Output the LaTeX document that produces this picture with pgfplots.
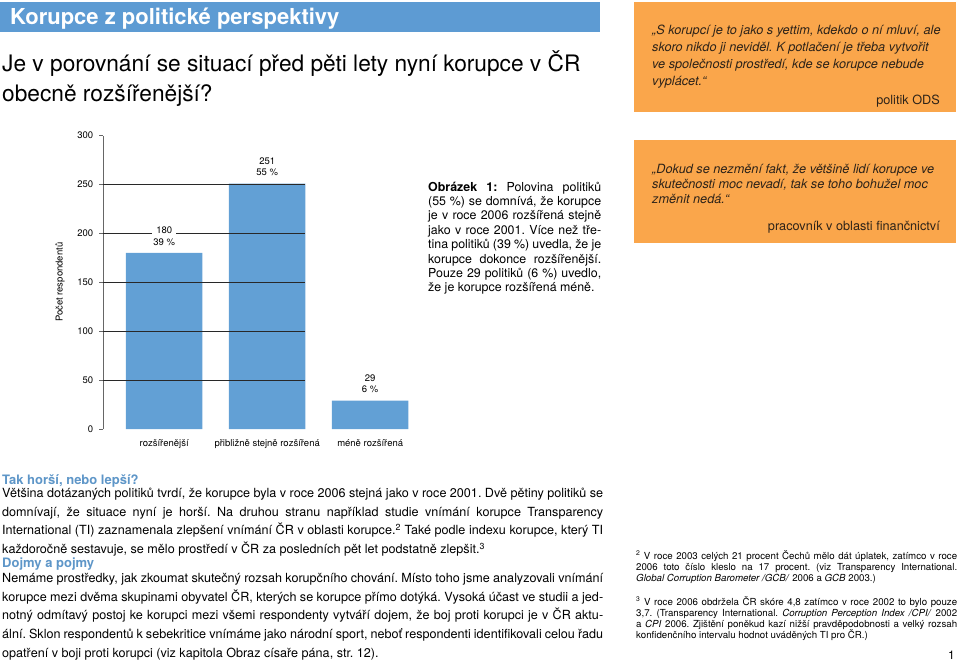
\documentclass[border=0pt]{standalone}
\usepackage{fontspec}
\setmainfont{TeX Gyre Heros}
\usepackage{pgfplots}
\pgfplotsset{compat=1.18}
\definecolor{titleblue}{RGB}{93,155,211}
\definecolor{barblue}{RGB}{98,160,213}
\definecolor{qorange}{RGB}{250,166,75}
\definecolor{headblue}{RGB}{94,150,200}
\definecolor{qtext}{RGB}{45,35,25}
\definecolor{gridc}{RGB}{40,40,40}
\newcommand{\fs}[2]{\fontsize{#1}{#2}\selectfont}
\newcommand{\jl}[2]{\makebox[#1pt][s]{#2}}
\frenchspacing
\begin{document}
\frenchspacing
\begin{tikzpicture}
\begin{scope}[x=1pt,y=-1pt,every node/.style={inner sep=0pt,anchor=base west}]
\path[use as bounding box] (0,0) rectangle (960,663);
% title
\fill[titleblue] (0,2) rectangle (600,32);
\node[text=white,font=\fs{22}{24}\bfseries] at (10,25) {Korupce z politické perspektivy};
\node[font=\fs{22.7}{30}] at (2,72) {Je v porovnání se situací před pěti lety nyní korupce v ČR};
\node[font=\fs{22.7}{30}] at (2,102) {obecně rozšířenější?};
% quote box 1
\fill[qorange] (634,2) rectangle (956,112);
\begin{scope}[every node/.append style={text=qtext,font=\fs{12.7}{14}\itshape}]
\node at (652,34.5) {„S korupcí je to jako s yettim, kdekdo o ní mluví, ale};
\node at (652,51.5) {skoro nikdo ji neviděl. K potlačení je třeba vytvořit};
\node at (652,68.5) {ve společnosti prostředí, kde se korupce nebude};
\node at (652,85.5) {vyplácet.“};
\end{scope}
\node[anchor=base east,text=qtext,font=\fs{12.7}{14}] at (940,104.5) {politik ODS};
% quote box 2
\fill[qorange] (634,140) rectangle (956,243);
\begin{scope}[every node/.append style={text=qtext,font=\fs{12.7}{14}\itshape}]
\node at (652,174) {„Dokud se nezmění fakt, že většině lidí korupce ve};
\node at (652,188.5) {skutečnosti moc nevadí, tak se toho bohužel moc};
\node at (652,203) {změnit nedá.“};
\end{scope}
\node[anchor=base east,text=qtext,font=\fs{12.7}{14}] at (940,230) {pracovník v oblasti finančnictví};
% caption
\begin{scope}[every node/.append style={font=\fs{12.4}{14}}]
\node at (428,191) {\jl{173}{\textbf{Obrázek 1:} Polovina politiků}};
\node at (428,205.4) {\jl{173}{(55 \%) se domnívá, že korupce}};
\node at (428,219.8) {\jl{173}{je v roce 2006 rozšířená stejně}};
\node at (428,234.2) {\jl{173}{jako v roce 2001. Více než tře-}};
\node at (428,248.6) {\jl{173}{tina politiků (39 \%) uvedla, že je}};
\node at (428,263) {\jl{173}{korupce dokonce rozšířenější.}};
\node at (428,277.4) {\jl{173}{Pouze 29 politiků (6 \%) uvedlo,}};
\node at (428,291.8) {že je korupce rozšířená méně.};
\end{scope}
% section 1
\node[text=headblue,font=\fs{13}{15}\bfseries] at (2,484) {Tak horší, nebo lepší?};
\begin{scope}[every node/.append style={font=\fs{12.6}{18}}]
\node at (2,497.5) {\jl{601}{Většina dotázaných politiků tvrdí, že korupce byla v roce 2006 stejná jako v roce 2001. Dvě pětiny politiků se}};
\node at (2,516.2) {\jl{601}{domnívají, že situace nyní je horší. Na druhou stranu například studie vnímání korupce Transparency}};
\node at (2,534.9) {\jl{601}{International (TI) zaznamenala zlepšení vnímání ČR v oblasti korupce.\textsuperscript{2} Také podle indexu korupce, který TI}};
\node at (2,553.6) {každoročně sestavuje, se mělo prostředí v ČR za posledních pět let podstatně zlepšit.\textsuperscript{3}};
\end{scope}
% section 2
\node[text=headblue,font=\fs{13}{15}\bfseries] at (2,567.5) {Dojmy a pojmy};
\begin{scope}[every node/.append style={font=\fs{12.6}{18}}]
\node at (2,582.5) {\jl{601}{Nemáme prostředky, jak zkoumat skutečný rozsah korupčního chování. Místo toho jsme analyzovali vnímání}};
\node at (2,601.2) {\jl{601}{korupce mezi dvěma skupinami obyvatel ČR, kterých se korupce přímo dotýká. Vysoká účast ve studii a jed-}};
\node at (2,619.9) {\jl{601}{notný odmítavý postoj ke korupci mezi všemi respondenty vytváří dojem, že boj proti korupci je v ČR aktu-}};
\node at (2,638.6) {\jl{601}{ální. Sklon respondentů k sebekritice vnímáme jako národní sport, neboť respondenti identifikovali celou řadu}};
\node at (2,657.3) {opatření v boji proti korupci (viz kapitola Obraz císaře pána, str. 12).};
\end{scope}
% footnotes
\begin{scope}[every node/.append style={font=\fs{9.7}{10.7}}]
\node at (636,559.5) {\jl{321}{\textsuperscript{2} V roce 2003 celých 21 procent Čechů mělo dát úplatek, zatímco v roce}};
\node at (636,570.5) {\jl{321}{2006 toto číslo kleslo na 17 procent. (viz Transparency International.}};
\node at (636,581.5) {\textit{Global Corruption Barometer /GCB/} 2006 a \textit{GCB} 2003.)};
\node at (636,605.5) {\jl{321}{\textsuperscript{3} V roce 2006 obdržela ČR skóre 4,8 zatímco v roce 2002 to bylo pouze}};
\node at (636,616.5) {\jl{321}{3,7. (Transparency International. \textit{Corruption Perception Index /CPI/} 2002}};
\node at (636,627.5) {\jl{321}{a \textit{CPI} 2006. Zjištění poněkud kazí nižší pravděpodobnosti a velký rozsah}};
\node at (636,638.5) {konfidenčního intervalu hodnot uváděných TI pro ČR.)};
\end{scope}
\node[anchor=base east,font=\fs{12}{14}] at (955,659) {1};
\end{scope}
% chart
\begin{axis}[
  at={(103.3pt,-429pt)}, anchor=south west,
  x=103pt, y=0.978pt,
  xmin=-0.591, xmax=2.45, ymin=0, ymax=300,
  axis lines*=left,
  x axis line style={draw=none},
  y axis line style={draw=gray!80!black, line width=0.6pt},
  xtick={0,1,2},
  xticklabels={rozšířenější, přibližně stejně rozšířená, méně rozšířená},
  ytick={0,50,...,300},
  tick align=outside, major tick length=4pt,
  xtick style={draw=none},
  ytick style={draw=gray!80!black, line width=0.6pt},
  /pgf/number format/assume math mode=true,
  tick label style={font=\fs{9.5}{11}},
  yticklabel style={anchor=east, inner sep=0pt, xshift=-6pt},
  xticklabel style={anchor=base, inner sep=0pt, yshift=-13pt},
  ylabel={Počet respondentů},
  ylabel style={font=\fs{9.5}{11}, at={(axis description cs:-0.138,0.5)}, anchor=center},
  clip=false,
]
\addplot[ybar, bar width=76.5pt, fill=barblue, draw=none] coordinates {(0,180) (1,251) (2,29)};
\pgfplotsinvokeforeach{50,100,150,200,250}{
  \draw[gridc, line width=0.8pt] (axis cs:-0.591,#1) -- (axis cs:1.372,#1);
}
\addplot[draw=none, mark=none, nodes near coords, point meta=explicit symbolic,
  nodes near coords style={font=\fs{9.5}{11.5}, align=center, fill=white, inner sep=1.5pt, anchor=south, yshift=6pt}]
  coordinates {(0,180) [180\\39 \%] (1,251) [251\\55 \%] (2,29) [29\\6 \%]};
\end{axis}
\end{tikzpicture}
\end{document}
